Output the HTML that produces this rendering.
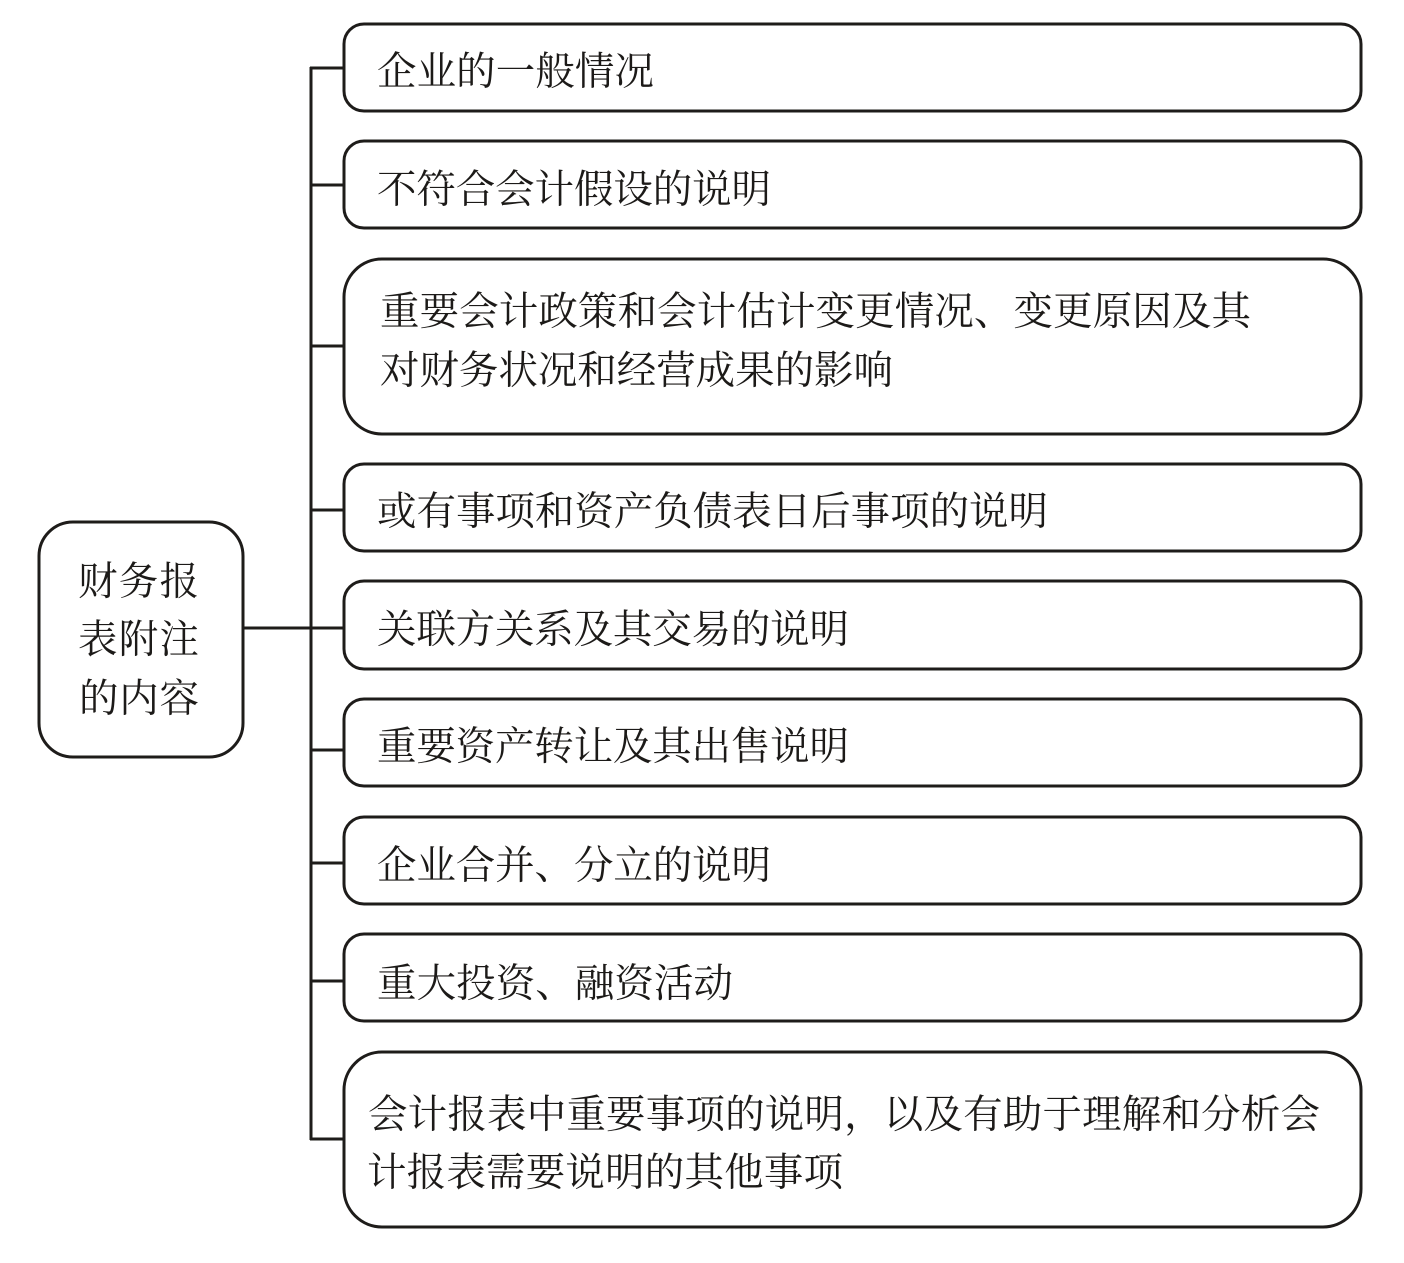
<!DOCTYPE html>
<html><head><meta charset="utf-8">
<style>
html,body{margin:0;padding:0;background:#fff}
svg{display:block}
text{font-family:"Noto Serif CJK SC","Liberation Serif",serif;font-size:39.5px;fill:#1c1a18;letter-spacing:0}
rect{fill:#fff;stroke:#1e1c1a;stroke-width:3}
line{stroke:#1e1c1a;stroke-width:3}
</style></head><body>
<svg width="1404" height="1263" viewBox="0 0 1404 1263" xmlns="http://www.w3.org/2000/svg">
<line x1="311" y1="67" x2="311" y2="1140"/>
<line x1="243" y1="628" x2="344" y2="628"/>
<line x1="310" y1="68" x2="344" y2="68"/>
<line x1="310" y1="185" x2="344" y2="185"/>
<line x1="310" y1="346" x2="344" y2="346"/>
<line x1="310" y1="510" x2="344" y2="510"/>
<line x1="310" y1="750" x2="344" y2="750"/>
<line x1="310" y1="863" x2="344" y2="863"/>
<line x1="310" y1="981" x2="344" y2="981"/>
<line x1="310" y1="1139" x2="344" y2="1139"/>
<rect x="39" y="522" width="204" height="235" rx="34"/>
<rect x="344" y="24" width="1017" height="87" rx="20"/>
<rect x="344" y="141" width="1017" height="87" rx="20"/>
<rect x="344" y="259" width="1017" height="175" rx="38"/>
<rect x="344" y="464" width="1017" height="87" rx="20"/>
<rect x="344" y="581" width="1017" height="88" rx="20"/>
<rect x="344" y="699" width="1017" height="87" rx="20"/>
<rect x="344" y="817" width="1017" height="87" rx="20"/>
<rect x="344" y="934" width="1017" height="87" rx="20"/>
<rect x="344" y="1052" width="1017" height="175" rx="38"/>
<text x="78" y="595" textLength="121" lengthAdjust="spacing">财务报</text>
<text x="78" y="653" textLength="121" lengthAdjust="spacing">表附注</text>
<text x="79" y="712" textLength="120" lengthAdjust="spacing">的内容</text>
<text x="377" y="85" textLength="277" lengthAdjust="spacing">企业的一般情况</text>
<text x="377" y="203" textLength="394" lengthAdjust="spacing">不符合会计假设的说明</text>
<text x="380" y="325" textLength="871" lengthAdjust="spacing">重要会计政策和会计估计变更情况、变更原因及其</text>
<text x="380" y="384" textLength="513" lengthAdjust="spacing">对财务状况和经营成果的影响</text>
<text x="377" y="525" textLength="671" lengthAdjust="spacing">或有事项和资产负债表日后事项的说明</text>
<text x="377" y="643" textLength="472" lengthAdjust="spacing">关联方关系及其交易的说明</text>
<text x="377" y="760" textLength="472" lengthAdjust="spacing">重要资产转让及其出售说明</text>
<text x="377" y="879" textLength="394" lengthAdjust="spacing">企业合并、分立的说明</text>
<text x="377" y="997" textLength="356" lengthAdjust="spacing">重大投资、融资活动</text>
<text x="368" y="1128" textLength="952" lengthAdjust="spacing">会计报表中重要事项的说明，以及有助于理解和分析会</text>
<text x="367" y="1186" textLength="476" lengthAdjust="spacing">计报表需要说明的其他事项</text>
</svg>
</body></html>
